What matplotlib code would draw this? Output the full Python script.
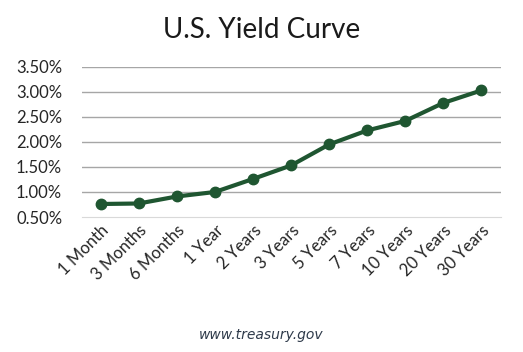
import matplotlib.pyplot as plt
from matplotlib.ticker import FuncFormatter

# yield curve data (percent)
maturities = ['1 Month', '3 Months', '6 Months', '1 Year', '2 Years', '3 Years',
              '5 Years', '7 Years', '10 Years', '20 Years', '30 Years']
yields = [0.76, 0.77, 0.91, 1.00, 1.26, 1.53, 1.95, 2.23, 2.42, 2.78, 3.03]
yticks = [0.5, 1.0, 1.5, 2.0, 2.5, 3.0, 3.5]

plt.rcParams['font.family'] = ['Lato', 'DejaVu Sans']

fig = plt.figure(figsize=(5.23, 3.52), dpi=100)
ax = fig.add_axes([0.156, 0.3835, 0.801, 0.4265])

x = range(len(maturities))
ax.plot(x, yields, color='#1f5631', linewidth=3, marker='o', markersize=7.5)

ax.set_xlim(-0.5, len(maturities) - 0.5)
ax.set_ylim(0.5, 3.5)
ax.set_yticks(yticks)
ax.yaxis.set_major_formatter(FuncFormatter(lambda v, p: f'{v:.2f}%'))
ax.set_xticks(list(x))
ax.set_xticklabels(maturities, rotation=45, ha='right', rotation_mode='anchor')

for v in yticks[1:]:
    ax.axhline(v, color='#a6a6a6', linewidth=1, zorder=0)

for s in ['top', 'right', 'left']:
    ax.spines[s].set_visible(False)
ax.spines['bottom'].set_color('#d9d9d9')
ax.tick_params(length=0, labelsize=12, colors='#262626')
ax.tick_params(axis='y', pad=14)
ax.tick_params(axis='x', pad=4)

fig.text(0.5, 0.915, 'U.S. Yield Curve', ha='center', va='center',
         fontsize=20, color='#1a1a1a')
fig.text(0.5, 0.048, 'www.treasury.gov', ha='center', va='center',
         fontsize=10, style='italic', color='#2e3a4a', family='DejaVu Sans')

fig.savefig('out.png', dpi=100)
